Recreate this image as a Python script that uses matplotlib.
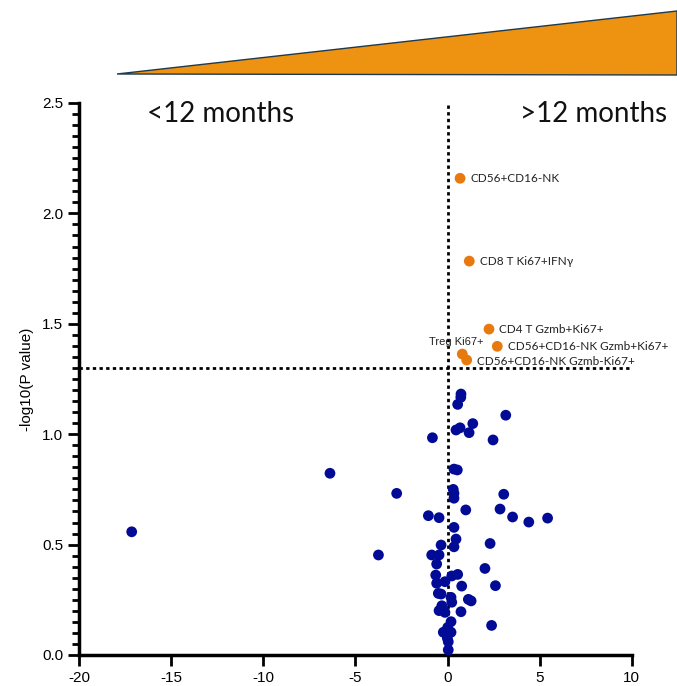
import matplotlib
matplotlib.use('Agg')
import matplotlib.pyplot as plt
from matplotlib.patches import Polygon
import numpy as np

# 显著的细胞群（橙色）
sig_names = ['CD56+CD16-NK', 'CD8 T Ki67+IFNγ', 'CD4 T Gzmb+Ki67+',
             'CD56+CD16-NK Gzmb+Ki67+', 'Treg Ki67+', 'CD56+CD16-NK Gzmb-Ki67+']
sig_x = [0.68, 1.18, 2.25, 2.70, 0.80, 1.04]
sig_y = [2.159, 1.784, 1.476, 1.398, 1.363, 1.336]

# 不显著的细胞群（蓝色）
ns_x = [0.73, 0.72, 0.55, 3.16, 1.37, 0.68, 0.46, 1.17, -0.82, 2.47,
        0.35, 0.53, 0.31, 0.35, 0.35, 3.05, 0.99, 2.85, -1.04, -0.46,
        3.53, 4.41, 5.43, 0.35, 0.46, -0.35, 0.35, 2.31, -0.86, -0.46,
        -0.59, 2.03, 0.55, 0.23, -0.64, -0.59, -0.14, 0.77, 2.60, -0.50,
        -0.35, 0.19, 0.23, 1.13, 1.28, -0.31, -0.46, -0.14, 0.73, 0.19,
        2.39, 0.01, -0.23, 0.19, -0.01, 0.04, 0.04,
        -6.38, -2.76, -17.14, -3.75]
ns_y = [1.182, 1.167, 1.135, 1.086, 1.048, 1.029, 1.019, 1.007, 0.984, 0.974,
        0.842, 0.838, 0.750, 0.732, 0.710, 0.728, 0.657, 0.661, 0.631, 0.622,
        0.625, 0.602, 0.620, 0.578, 0.525, 0.498, 0.490, 0.505, 0.453, 0.453,
        0.412, 0.392, 0.365, 0.358, 0.362, 0.325, 0.332, 0.312, 0.314, 0.279,
        0.276, 0.261, 0.239, 0.252, 0.245, 0.223, 0.201, 0.193, 0.196, 0.151,
        0.134, 0.125, 0.103, 0.103, 0.076, 0.060, 0.023,
        0.823, 0.732, 0.558, 0.453]

x_ticks = [-20, -15, -10, -5, 0, 5, 10]
y_ticks = [0.0, 0.5, 1.0, 1.5, 2.0, 2.5]
p_cut = 1.3  # -log10(0.05)

# 标签偏移（像素）
label_offsets = [(10.7, 0), (10.7, 0), (10, 0), (10.4, 0), (-33, 12.3), (10, -1.7)]

plt.rcParams['font.family'] = ['Liberation Sans', 'DejaVu Sans']
plt.rcParams['axes.unicode_minus'] = False
label_font = ['Lato', 'DejaVu Sans']

fig = plt.figure(figsize=(6.77, 6.86), dpi=100)
ax = fig.add_axes([79/677, 1-655/686, (631.8-79)/677, (655-103)/686])

ax.scatter(ns_x, ns_y, s=60, color='#020B95', edgecolors='none', zorder=3, clip_on=False)
ax.scatter(sig_x, sig_y, s=60, color='#E8790F', edgecolors='none', zorder=3, clip_on=False)

for name, x, y, off in zip(sig_names, sig_x, sig_y, label_offsets):
    if name.startswith('Treg'):
        ax.annotate(name, (x, y), xytext=off, textcoords='offset pixels',
                    fontsize=8, va='center', ha='left', color='#222222')
    else:
        ax.annotate(name, (x, y), xytext=off, textcoords='offset pixels',
                    fontsize=8.5, va='center', ha='left', family=label_font, color='#222222')

ax.axhline(p_cut, color='black', ls=(0, (1.2, 1.2)), lw=2, zorder=1)
ax.plot([0, 0], [0, 2.5], color='black', ls=(0, (1.2, 1.2)), lw=2, zorder=1, clip_on=False)

ax.text(0.123, 1.003, '<12 months', transform=ax.transAxes, fontsize=20,
        family=label_font, va='top', ha='left', color='#111111')
ax.text(1.064, 1.003, '>12 months', transform=ax.transAxes, fontsize=20,
        family=label_font, va='top', ha='right', color='#111111')

ax.set_xlim(-20, 10)
ax.set_ylim(0, 2.5)
ax.set_xticks(x_ticks)
ax.set_yticks(y_ticks)
ax.set_yticklabels(['%.1f' % v for v in y_ticks])
ax.set_yticks(np.arange(0, 2.5001, 0.05), minor=True)
ax.tick_params(axis='both', which='major', length=8, width=2, labelsize=11, direction='out')
ax.tick_params(axis='y', which='minor', length=5, width=2)
ax.set_ylabel('-log10(P value)', fontsize=11, labelpad=6)

for s in ['top', 'right']:
    ax.spines[s].set_visible(False)
for s in ['left', 'bottom']:
    ax.spines[s].set_linewidth(2.5)

# 顶部三角形
tri = Polygon([(117/677, 1-74/686), (677/677, 1-11/686), (677/677, 1-75/686)],
              closed=True, transform=fig.transFigure, facecolor='#EE9212',
              edgecolor='#1E3A4F', lw=1)
fig.patches.append(tri)

fig.savefig('out.png', dpi=100)
